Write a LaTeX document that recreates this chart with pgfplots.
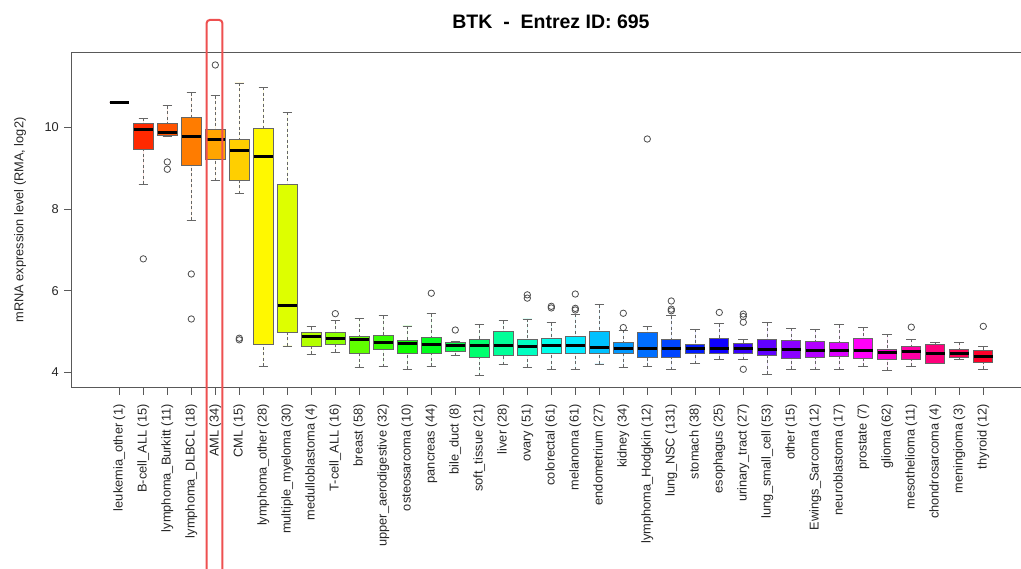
\documentclass[border=0pt]{standalone}
\usepackage{fontspec}
\setmainfont{Liberation Sans}
\usepackage{pgfplots}
\pgfplotsset{compat=1.18}
\usepgfplotslibrary{statistics}

% rainbow palette, one hue per tumour type
\definecolor{c0}{RGB}{255,0,0}
\definecolor{c1}{RGB}{255,41,0}
\definecolor{c2}{RGB}{255,83,0}
\definecolor{c3}{RGB}{255,124,0}
\definecolor{c4}{RGB}{255,165,0}
\definecolor{c5}{RGB}{255,207,0}
\definecolor{c6}{RGB}{255,248,0}
\definecolor{c7}{RGB}{221,255,0}
\definecolor{c8}{RGB}{179,255,0}
\definecolor{c9}{RGB}{138,255,0}
\definecolor{c10}{RGB}{96,255,0}
\definecolor{c11}{RGB}{55,255,0}
\definecolor{c12}{RGB}{14,255,0}
\definecolor{c13}{RGB}{0,255,28}
\definecolor{c14}{RGB}{0,255,69}
\definecolor{c15}{RGB}{0,255,110}
\definecolor{c16}{RGB}{0,255,152}
\definecolor{c17}{RGB}{0,255,193}
\definecolor{c18}{RGB}{0,255,234}
\definecolor{c19}{RGB}{0,234,255}
\definecolor{c20}{RGB}{0,193,255}
\definecolor{c21}{RGB}{0,152,255}
\definecolor{c22}{RGB}{0,110,255}
\definecolor{c23}{RGB}{0,69,255}
\definecolor{c24}{RGB}{0,28,255}
\definecolor{c25}{RGB}{14,0,255}
\definecolor{c26}{RGB}{55,0,255}
\definecolor{c27}{RGB}{96,0,255}
\definecolor{c28}{RGB}{138,0,255}
\definecolor{c29}{RGB}{179,0,255}
\definecolor{c30}{RGB}{221,0,255}
\definecolor{c31}{RGB}{255,0,248}
\definecolor{c32}{RGB}{255,0,207}
\definecolor{c33}{RGB}{255,0,165}
\definecolor{c34}{RGB}{255,0,124}
\definecolor{c35}{RGB}{255,0,83}
\definecolor{c36}{RGB}{255,0,41}
\definecolor{hilite}{RGB}{238,80,80}

\pgfplotsset{
  bxs/.style={
    solid, draw=black!60, line width=0.8pt,
    mark=o, mark size=3.2pt,
    mark options={solid, draw=black!70, fill=none, line width=0.8pt},
    boxplot/draw direction=y,
    boxplot/box extend=0.8,
    boxplot/whisker extend=0.4,
    boxplot/every median/.style={draw=black, line width=3pt},
    boxplot/draw/lower whisker/.code={%
      \draw[/pgfplots/boxplot/every whisker/.try, dash pattern=on 3pt off 2.5pt]
        (boxplot cs:\pgfplotsboxplotvalue{lower whisker})
        -- (boxplot cs:\pgfplotsboxplotvalue{lower quartile});
      \draw[/pgfplots/boxplot/every whisker/.try]
        (boxplot whisker cs:\pgfplotsboxplotvalue{lower whisker},0)
        -- (boxplot whisker cs:\pgfplotsboxplotvalue{lower whisker},1);
    },
    boxplot/draw/upper whisker/.code={%
      \draw[/pgfplots/boxplot/every whisker/.try, dash pattern=on 3pt off 2.5pt]
        (boxplot cs:\pgfplotsboxplotvalue{upper whisker})
        -- (boxplot cs:\pgfplotsboxplotvalue{upper quartile});
      \draw[/pgfplots/boxplot/every whisker/.try]
        (boxplot whisker cs:\pgfplotsboxplotvalue{upper whisker},0)
        -- (boxplot whisker cs:\pgfplotsboxplotvalue{upper whisker},1);
    },
  },
}

% \bx{position}{colour}{lower whisker}{Q1}{median}{Q3}{upper whisker}{outliers}
\newcommand\bx[8]{%
  \addplot[bxs, fill=#2, boxplot prepared={draw position=#1,
    lower whisker=#3, lower quartile=#4, median=#5,
    upper quartile=#6, upper whisker=#7}] coordinates {#8};}

\begin{document}
\begin{tikzpicture}[x=1pt,y=1pt]
\useasboundingbox (-71.8,-181.7) rectangle (949.2,387.3);
\clip (-71.8,-181.7) rectangle (949.2,387.3);
\begin{axis}[
  at={(0,0)}, anchor=south west,
  scale only axis, width=959pt, height=334.6pt,
  xmin=-1.98, xmax=37.98, ymin=3.64, ymax=11.82,
  axis line style={black!65, line width=1pt},
  tick align=outside, major tick length=7.5pt,
  tick style={black!65, line width=0.8pt},
  xtick pos=left, ytick pos=left,
  xtick={0,...,36}, ytick={4,6,8,10},
  xticklabels={leukemia\_other (1), B-cell\_ALL (15), lymphoma\_Burkitt (11),
    lymphoma\_DLBCL (18), AML (34), CML (15), lymphoma\_other (28),
    multiple\_myeloma (30), medulloblastoma (4), T-cell\_ALL (16), breast (58),
    upper\_aerodigestive (32), osteosarcoma (10), pancreas (44), bile\_duct (8),
    soft\_tissue (21), liver (28), ovary (51), colorectal (61), melanoma (61),
    endometrium (27), kidney (34), lymphoma\_Hodgkin (12), lung\_NSC (131),
    stomach (38), esophagus (25), urinary\_tract (27), lung\_small\_cell (53),
    other (15), Ewings\_Sarcoma (12), neuroblastoma (17), prostate (7),
    glioma (62), mesothelioma (11), chondrosarcoma (4), meningioma (3),
    thyroid (12)},
  xticklabel style={rotate=90, anchor=east, xshift=-6pt, font=\fontsize{12.8}{14}\selectfont, text=black!85},
  yticklabel style={xshift=-2pt, font=\fontsize{12.8}{14}\selectfont, text=black!85},
  /pgf/number format/assume math mode=true,
]
\bx{0}{c0}{10.61}{10.61}{10.61}{10.61}{10.61}{}
\bx{1}{c1}{8.61}{9.46}{9.95}{10.08}{10.22}{(1,6.78)}
\bx{2}{c2}{9.77}{9.79}{9.87}{10.10}{10.52}{(2,9.15) (2,8.97)}
\bx{3}{c3}{7.72}{9.07}{9.78}{10.23}{10.84}{(3,6.41) (3,5.31)}
\bx{4}{c4}{8.69}{9.22}{9.71}{9.95}{10.77}{(4,11.52)}
\bx{5}{c5}{8.37}{8.71}{9.43}{9.69}{11.08}{(5,4.80) (5,4.84)}
\bx{6}{c6}{4.15}{4.68}{9.28}{9.97}{10.98}{}
\bx{7}{c7}{4.65}{4.98}{5.64}{8.61}{10.37}{}
\bx{8}{c8}{4.45}{4.64}{4.87}{4.98}{5.12}{}
\bx{9}{c9}{4.50}{4.69}{4.83}{4.98}{5.27}{(9,5.44)}
\bx{10}{c10}{4.13}{4.47}{4.80}{4.88}{5.33}{}
\bx{11}{c11}{4.14}{4.57}{4.73}{4.90}{5.39}{}
\bx{12}{c12}{4.08}{4.47}{4.70}{4.78}{5.14}{}
\bx{13}{c13}{4.15}{4.47}{4.69}{4.86}{5.44}{(13,5.94)}
\bx{14}{c14}{4.41}{4.51}{4.65}{4.73}{4.75}{(14,5.04)}
\bx{15}{c15}{3.92}{4.38}{4.67}{4.80}{5.17}{}
\bx{16}{c16}{4.19}{4.43}{4.67}{5.00}{5.27}{}
\bx{17}{c17}{4.13}{4.43}{4.63}{4.80}{5.31}{(17,5.82) (17,5.90)}
\bx{18}{c18}{4.08}{4.46}{4.67}{4.84}{5.22}{(18,5.58) (18,5.62)}
\bx{19}{c19}{4.07}{4.47}{4.67}{4.88}{5.43}{(19,5.53) (19,5.57) (19,5.92)}
\bx{20}{c20}{4.21}{4.47}{4.61}{5.00}{5.66}{}
\bx{21}{c21}{4.13}{4.47}{4.60}{4.73}{5.03}{(21,5.10) (21,5.45)}
\bx{22}{c22}{4.16}{4.38}{4.60}{4.98}{5.12}{(22,9.71)}
\bx{23}{c23}{4.07}{4.38}{4.60}{4.80}{5.39}{(23,5.51) (23,5.55) (23,5.75)}
\bx{24}{c24}{4.22}{4.47}{4.58}{4.70}{5.06}{}
\bx{25}{c25}{4.33}{4.46}{4.60}{4.84}{5.19}{(25,5.47)}
\bx{26}{c26}{4.31}{4.47}{4.60}{4.72}{4.80}{(26,4.08) (26,5.23) (26,5.37) (26,5.43)}
\bx{27}{c27}{3.96}{4.41}{4.57}{4.80}{5.22}{}
\bx{28}{c28}{4.08}{4.35}{4.56}{4.78}{5.08}{}
\bx{29}{c29}{4.07}{4.38}{4.55}{4.77}{5.06}{}
\bx{30}{c30}{4.07}{4.39}{4.55}{4.73}{5.17}{}
\bx{31}{c31}{4.16}{4.35}{4.53}{4.84}{5.10}{}
\bx{32}{c32}{4.06}{4.33}{4.50}{4.56}{4.94}{}
\bx{33}{c33}{4.16}{4.33}{4.51}{4.63}{4.82}{(33,5.11)}
\bx{34}{c34}{4.22}{4.22}{4.46}{4.69}{4.74}{}
\bx{35}{c35}{4.31}{4.36}{4.46}{4.57}{4.74}{}
\bx{36}{c36}{4.08}{4.24}{4.39}{4.55}{4.63}{(36,5.13)}
\end{axis}
% title and y label
\node[font=\fontsize{19.5}{22}\selectfont\bfseries] at (479.2,365.3) {BTK\ \ -\ \ Entrez ID: 695};
\node[rotate=90, font=\fontsize{12.8}{14}\selectfont, text=black!85] at (-51.8,167.3) {mRNA expression level (RMA, log2)};
% highlight around the AML group
\draw[hilite, line width=2pt, rounded corners=3pt] (134.9,-200) rectangle (150.5,367.3);
\end{tikzpicture}
\end{document}
